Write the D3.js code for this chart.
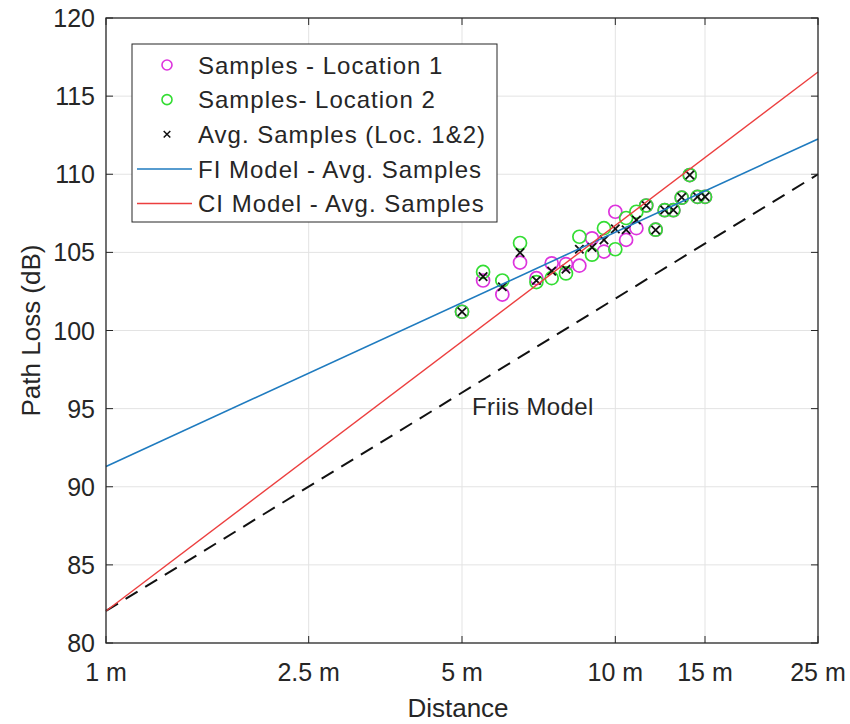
<!DOCTYPE html>
<html>
<head>
<meta charset="utf-8">
<script src="https://cdn.jsdelivr.net/npm/d3@7/dist/d3.min.js"></script>
<style>
	body { margin: 0; background: #fff; }
	text { font-family: "Liberation Sans", Arial, sans-serif; fill: #262626; }
</style>
</head>
<body>
<div id="chart"></div>
<script>
'use strict';

// measured distances (m) and path loss (dB)
var distances = [5, 5.5, 6, 6.5, 7, 7.5, 8, 8.5, 9, 9.5, 10, 10.5, 11, 11.5, 12, 12.5, 13, 13.5, 14, 14.5, 15];
var lossLoc1 = [101.2, 103.2, 102.3, 104.35, 103.35, 104.3, 104.25, 104.15, 105.9, 105.05, 107.6, 105.8, 106.55, 108.0, 106.45, 107.7, 107.7, 108.5, 109.95, 108.55, 108.55];
var lossLoc2 = [101.2, 103.75, 103.2, 105.6, 103.1, 103.35, 103.65, 106.0, 104.85, 106.55, 105.2, 107.2, 107.6, 108.0, 106.45, 107.7, 107.7, 108.5, 109.95, 108.55, 108.55];
var lossAvg = [101.2, 103.45, 102.8, 104.98, 103.2, 103.8, 103.92, 105.2, 105.32, 105.8, 106.5, 106.45, 107.07, 108.0, 106.43, 107.71, 107.71, 108.52, 109.95, 108.56, 108.56];

// model lines, path loss at 1 m and 25 m
var lineDistances = [1, 25];
var fiLine = [91.3, 112.26];
var ciLine = [82.05, 116.54];
var friisLine = [82.05, 110.0];

var xTickValues = [1, 2.5, 5, 10, 15, 25];
var xTickLabels = ['1 m', '2.5 m', '5 m', '10 m', '15 m', '25 m'];
var yTickValues = [80, 85, 90, 95, 100, 105, 110, 115, 120];

var legendLabels = ['Samples - Location 1', 'Samples- Location 2', 'Avg. Samples (Loc. 1&2)', 'FI Model - Avg. Samples', 'CI Model - Avg. Samples'];

var W = 850, H = 724;
var padL = 106, padT = 18, pw = 712, ph = 625;
var magenta = '#dd33dd', green = '#33dd33', blue = '#1f7bbf', red = '#ec3f3f';

var svg = d3.select('#chart').append('svg')
	.attr('width', W)
	.attr('height', H);

var x = d3.scaleLog().domain([1, 25]).range([padL, padL + pw]);
var y = d3.scaleLinear().domain([80, 120]).range([padT + ph, padT]);

// grid
svg.append('g').selectAll('line')
	.data(xTickValues.slice(1, -1))
	.enter().append('line')
		.attr('x1', function(d){return x(d);})
		.attr('x2', function(d){return x(d);})
		.attr('y1', padT)
		.attr('y2', padT + ph)
		.style('stroke', '#e3e3e3')
		.style('stroke-width', 1);

svg.append('g').selectAll('line')
	.data(yTickValues.slice(1, -1))
	.enter().append('line')
		.attr('x1', padL)
		.attr('x2', padL + pw)
		.attr('y1', function(d){return y(d);})
		.attr('y2', function(d){return y(d);})
		.style('stroke', '#e3e3e3')
		.style('stroke-width', 1);

var lineGen = d3.line()
	.x(function(d){return x(d[0]);})
	.y(function(d){return y(d[1]);});

function pairs(vals) {
	return lineDistances.map(function(d, i){return [d, vals[i]];});
}

// friis (dashed)
svg.append('path')
	.attr('d', lineGen(pairs(friisLine)))
	.style('fill', 'none')
	.style('stroke', '#111')
	.style('stroke-width', 2)
	.style('stroke-dasharray', '14,9');

function circles(vals, color) {
	svg.append('g').selectAll('circle')
		.data(distances)
		.enter().append('circle')
			.attr('cx', function(d){return x(d);})
			.attr('cy', function(d, i){return y(vals[i]);})
			.attr('r', 6.5)
			.style('fill', 'none')
			.style('stroke', color)
			.style('stroke-width', 1.7);
}
circles(lossLoc1, magenta);
circles(lossLoc2, green);

function cross(cx, cy, s) {
	return 'M' + (cx - s) + ',' + (cy - s) + 'L' + (cx + s) + ',' + (cy + s) +
		'M' + (cx - s) + ',' + (cy + s) + 'L' + (cx + s) + ',' + (cy - s);
}

svg.append('g').selectAll('path')
	.data(distances)
	.enter().append('path')
		.attr('d', function(d, i){return cross(x(d), y(lossAvg[i]), 4.2);})
		.style('stroke', '#111')
		.style('stroke-width', 1.8);

svg.append('path')
	.attr('d', lineGen(pairs(fiLine)))
	.style('fill', 'none')
	.style('stroke', blue)
	.style('stroke-width', 1.6);

svg.append('path')
	.attr('d', lineGen(pairs(ciLine)))
	.style('fill', 'none')
	.style('stroke', red)
	.style('stroke-width', 1.4);

// axes box with inward ticks
svg.append('rect')
	.attr('x', padL).attr('y', padT)
	.attr('width', pw).attr('height', ph)
	.style('fill', 'none')
	.style('stroke', '#262626')
	.style('stroke-width', 1.3);

var tk = 7;
xTickValues.forEach(function(d){
	svg.append('line').attr('x1', x(d)).attr('x2', x(d)).attr('y1', padT + ph).attr('y2', padT + ph - tk)
		.style('stroke', '#262626');
	svg.append('line').attr('x1', x(d)).attr('x2', x(d)).attr('y1', padT).attr('y2', padT + tk)
		.style('stroke', '#262626');
});
yTickValues.forEach(function(d){
	svg.append('line').attr('x1', padL).attr('x2', padL + tk).attr('y1', y(d)).attr('y2', y(d))
		.style('stroke', '#262626');
	svg.append('line').attr('x1', padL + pw).attr('x2', padL + pw - tk).attr('y1', y(d)).attr('y2', y(d))
		.style('stroke', '#262626');
});

svg.append('g').selectAll('text')
	.data(xTickValues)
	.enter().append('text')
		.attr('x', function(d){return x(d);})
		.attr('y', 681)
		.attr('text-anchor', 'middle')
		.style('font-size', '25px')
		.text(function(d, i){return xTickLabels[i];});

svg.append('g').selectAll('text')
	.data(yTickValues)
	.enter().append('text')
		.attr('x', 95)
		.attr('y', function(d){return y(d);})
		.attr('dy', '0.36em')
		.attr('text-anchor', 'end')
		.style('font-size', '25px')
		.text(function(d){return d;});

svg.append('text')
	.attr('x', padL + pw / 2 - 4)
	.attr('y', 717)
	.attr('text-anchor', 'middle')
	.style('font-size', '26px')
	.text('Distance');

svg.append('text')
	.attr('transform', 'translate(40,' + (padT + ph / 2) + ') rotate(-90)')
	.attr('text-anchor', 'middle')
	.style('font-size', '26px')
	.text('Path Loss (dB)');

svg.append('text')
	.attr('x', 472)
	.attr('y', 415)
	.style('font-size', '24px')
	.style('letter-spacing', '0.4px')
	.text('Friis Model');

// legend
var lg = svg.append('g');
lg.append('rect')
	.attr('x', 132).attr('y', 44)
	.attr('width', 365).attr('height', 178)
	.style('fill', '#fff')
	.style('stroke', '#262626')
	.style('stroke-width', 1);

var rowY = d3.scalePoint().domain(d3.range(legendLabels.length)).range([65, 203.5]);
legendLabels.forEach(function(label, i){
	var cy = rowY(i);
	if (i < 2) {
		lg.append('circle').attr('cx', 167).attr('cy', cy).attr('r', 5)
			.style('fill', 'none').style('stroke', i === 0 ? magenta : green).style('stroke-width', 1.6);
	} else if (i === 2) {
		lg.append('path').attr('d', cross(167, cy, 3.3))
			.style('stroke', '#111').style('stroke-width', 1.5);
	} else {
		lg.append('line').attr('x1', 137).attr('x2', 192).attr('y1', cy).attr('y2', cy)
			.style('stroke', i === 3 ? blue : red).style('stroke-width', 1.5);
	}
	lg.append('text')
		.attr('x', 198)
		.attr('y', cy)
		.attr('dy', '0.36em')
		.style('font-size', '24px')
		.style('letter-spacing', '1px')
		.text(label);
});
</script>
</body>
</html>
